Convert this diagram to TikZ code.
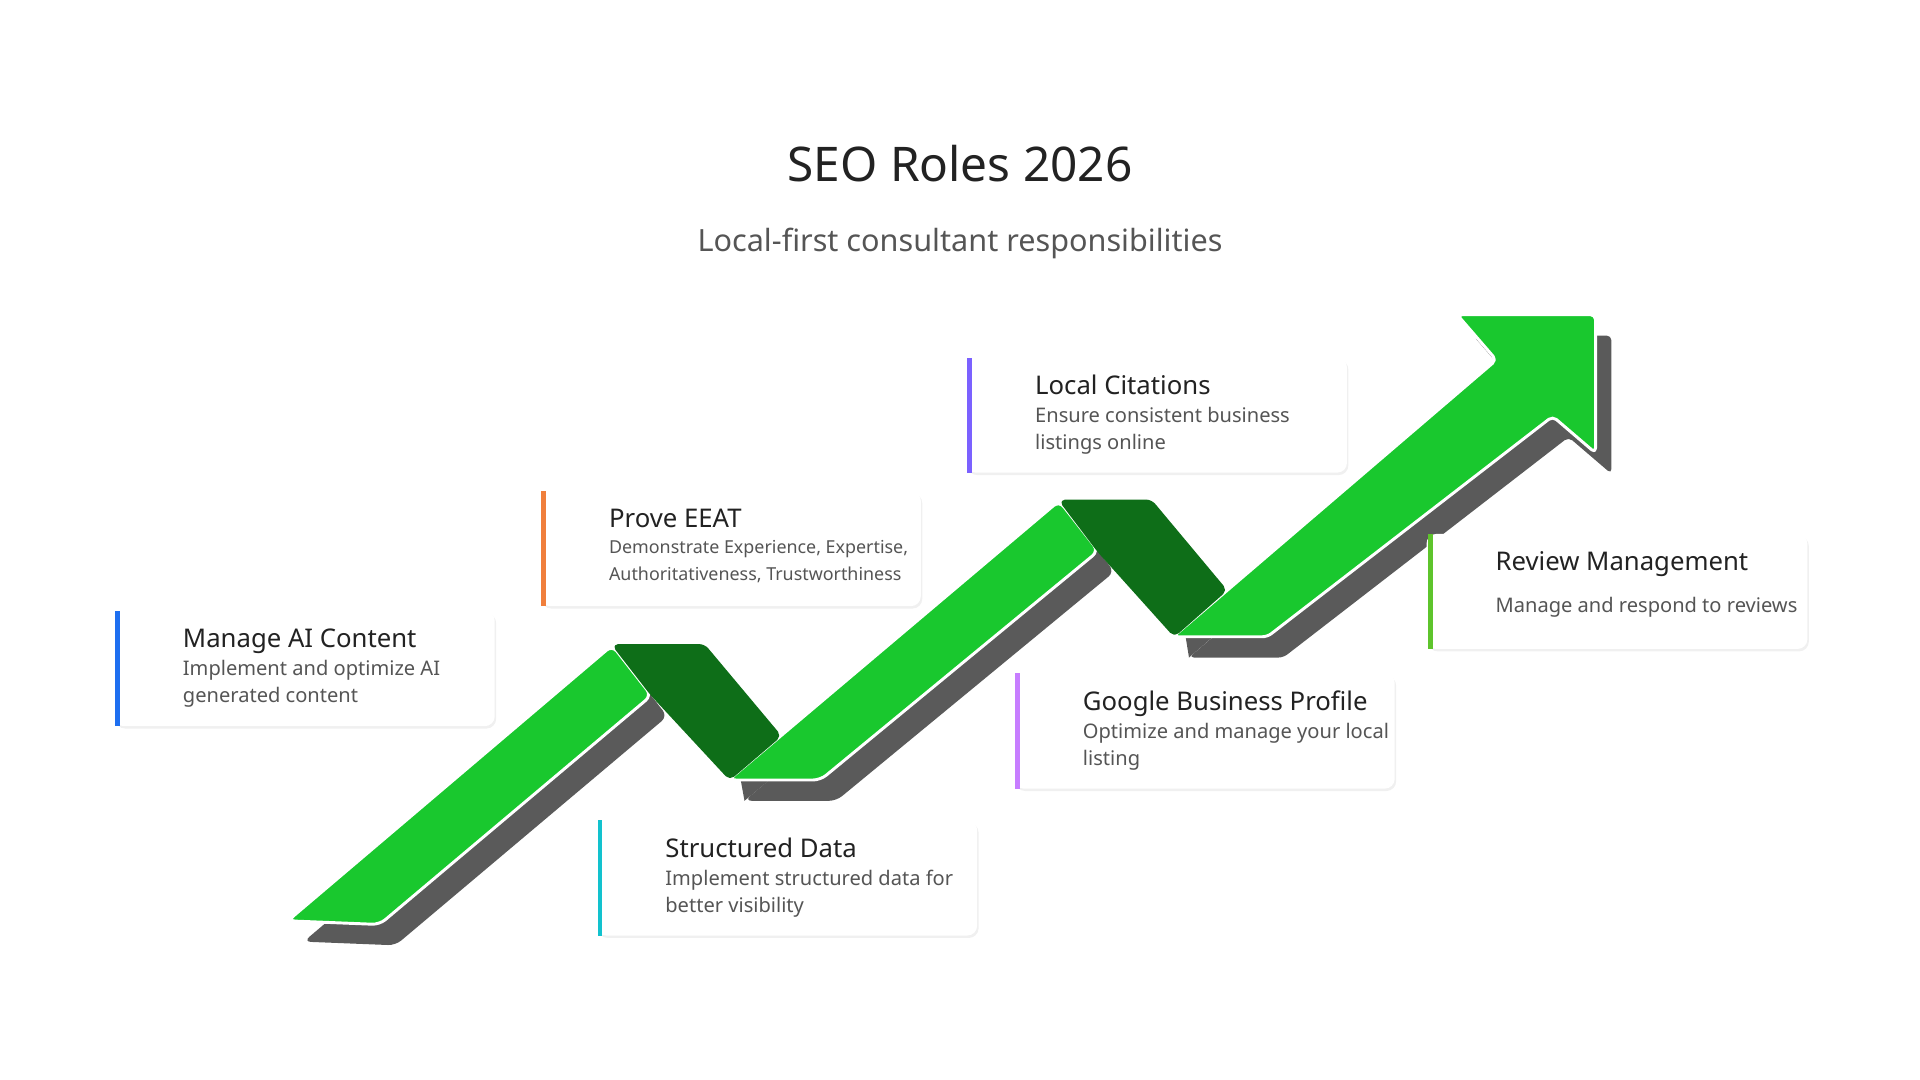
\documentclass[tikz,border=0pt]{standalone}
\usepackage{fontspec}
\setmainfont{Noto Sans}
\usetikzlibrary{shadows}
\definecolor{gr}{HTML}{19C82E}
\definecolor{dg}{HTML}{0E6E18}
\definecolor{sh}{HTML}{5A5A5A}
\definecolor{tt}{HTML}{222222}
\definecolor{td}{HTML}{555555}
\begin{document}
\begin{tikzpicture}[x=0.5pt,y=-0.5pt,
  card/.style={fill=white,rounded corners=4pt,drop shadow={opacity=0.12,shadow xshift=0.6pt,shadow yshift=-1pt}},
  ctitle/.style={anchor=base west,inner sep=0,font=\fontsize{10.5}{12}\selectfont\bfseries,text=tt},
  cdesc/.style={anchor=north west,inner sep=0,align=left,font=\fontsize{8.2}{11}\selectfont,text=td},
  seg/.style={fill=gr,draw=white,line width=1.2pt,line join=round},
  fold/.style={fill=dg,draw=dg,line width=1pt,line join=round}]
\useasboundingbox (0,0) rectangle (1568,882);
\node (title) at (784,134) {\fontsize{19.5}{22}\selectfont\color{tt}SEO Roles 2026};
\node (sub) at (784,199) {\fontsize{12.5}{15}\selectfont\color{td}Local-first consultant responsibilities};
% shadow
\begin{scope}[shift={(13,17)},sh]
\fill[rounded corners=3pt] (235,752)--(500,527)--(532,568)--(310,755)--cycle;
\fill[rounded corners=3pt] (595,637)--(865,409)--(897,450)--(670,637)--cycle;
\fill[rounded corners=2pt] (958,520)--(1222,294)--(1190,257)--(1303,257)--(1303,370)--(1268,340)--(1035,520)--cycle;
\fill (575,527)--(638,601)--(595,637)--cycle;
\fill (940,409)--(1002,482)--(958,520)--cycle;
\end{scope}
% green
\path[seg,rounded corners=3pt] (235,752)--(500,527)--(532,568)--(310,755)--cycle;
\path[seg,rounded corners=3pt] (595,637)--(865,409)--(897,450)--(670,637)--cycle;
\path[seg,rounded corners=2pt] (958,520)--(1222,294)--(1190,257)--(1303,257)--(1303,370)--(1268,340)--(1035,520)--cycle;
% folds
\path[fold,rounded corners=2pt] (501,527)--(575,527)--(637,601)--(596,636)--(532,567)--cycle;
\path[fold,rounded corners=2pt] (866,409)--(940,409)--(1001,482)--(959,519)--(897,450)--cycle;
% cards
\foreach \n/\x/\y/\c/\t/\d/\s in {
 a/93/499/1E6FF0/Manage AI Content/{Implement and optimize AI\\generated content}/8.2,
 b/441/401/F07F3C/Prove EEAT/{Demonstrate Experience, Expertise,\\Authoritativeness, Trustworthiness}/7.3,
 c/487/670/12C2CE/Structured Data/{Implement structured data for\\better visibility}/8.2,
 d/789/292/7B61FF/Local Citations/{Ensure consistent business\\listings online}/8.2,
 e/828/550/C77DFF/Google Business Profile/{Optimize and manage your local\\listing}/8.2,
 f/1165/436/5EC42C/Review Management/{}/8.2}{
 \path[card] (\x,\y) rectangle ++(311,94);
 \definecolor{acc}{HTML}{\c}
 \fill[acc] (\x+1,\y) rectangle ++(4,94);
 \node[ctitle] (t\n) at (\x+56,\y+30) {\t};
 \node[cdesc,font=\fontsize{\s}{11}\selectfont] (d\n) at (\x+56,\y+40) {\d};
}
\node[cdesc] (df) at (1221,487) {Manage and respond to reviews};
\end{tikzpicture}
\end{document}
